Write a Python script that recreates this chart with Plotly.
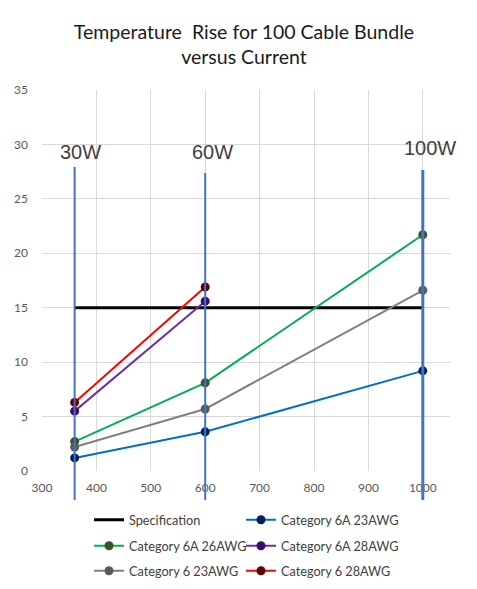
import plotly.graph_objects as go

# ---- data ----
currents = [360, 600, 1000]
watt_labels = ["30W", "60W", "100W"]
spec_x = [360, 1000]
spec_y = [15, 15]

cat6a_23 = [1.2, 3.6, 9.2]
cat6a_26 = [2.7, 8.1, 21.7]
cat6a_28 = [5.5, 15.6]
cat6_23 = [2.2, 5.7, 16.6]
cat6_28 = [6.3, 16.9]

x_ticks = [300, 400, 500, 600, 700, 800, 900, 1000]
y_ticks = [0, 5, 10, 15, 20, 25, 30, 35]

# page body has an 8px margin, so the figure is sized to the visible window
W, H = 461, 573
ML, MR, MT, MB = 34, 19, 82, 110
PW = W - ML - MR

# legend grid: two columns, three rows (pixel positions of each cell)
leg_cols = [81, 233]
leg_rows = [512, 538, 563]

fig = go.Figure()

fig.add_trace(go.Scatter(x=spec_x, y=spec_y, mode="lines", name="Specification",
                         line=dict(color="#000000", width=3), legend="legend"))

series = [
    ("Category 6A 23AWG", currents, cat6a_23, "#0070C0", "#002060"),
    ("Category 6A 26AWG", currents, cat6a_26, "#00B050", "#375623"),
    ("Category 6A 28AWG", currents[:2], cat6a_28, "#7030A0", "#3A0B6B"),
    ("Category 6 23AWG", currents, cat6_23, "#808080", "#595959"),
    ("Category 6 28AWG", currents[:2], cat6_28, "#FF0000", "#600000"),
]
for i, (name, xs, ys, lc, mc) in enumerate(series):
    fig.add_trace(go.Scatter(x=xs, y=ys, mode="lines+markers", name=name,
                             line=dict(color=lc, width=2),
                             marker=dict(color=mc, size=9), legend=f"legend{i + 2}"))

# vertical power-level markers
tops = [0.798, 0.782, 0.79]
widths = [2, 2, 3]
for xv, top, w in zip(currents, tops, widths):
    fig.add_shape(type="line", xref="x", yref="paper", x0=xv, x1=xv, y0=-0.076, y1=top,
                  line=dict(color="#4472C4", width=w), layer="above")

ann_y = [0.837, 0.837, 0.848]
ann_shift = [6, 7, 7]
for xv, lab, yy, sh in zip(currents, watt_labels, ann_y, ann_shift):
    fig.add_annotation(x=xv, y=yy, xref="x", yref="paper", text=lab, showarrow=False,
                       xanchor="center", yanchor="middle", xshift=sh,
                       font=dict(family="Liberation Sans", size=20, color="#404040"))

leg_common = dict(orientation="h", xanchor="left", yref="container", yanchor="middle",
                  itemwidth=30, font=dict(family="Lato", size=12.7, color="#404040"),
                  bgcolor="rgba(0,0,0,0)")
legends = {}
for k in range(6):
    key = "legend" if k == 0 else f"legend{k + 1}"
    cx = leg_cols[k % 2]
    cy = leg_rows[k // 2]
    legends[key] = dict(leg_common, x=(cx - ML) / PW, y=1 - cy / H)

fig.update_layout(
    width=W, height=H,
    margin=dict(l=ML, r=MR, t=MT, b=MB, autoexpand=False),
    paper_bgcolor="white", plot_bgcolor="white",
    title=dict(text="Temperature  Rise for 100 Cable Bundle<br>versus Current",
               x=0.495, xanchor="center", xref="paper", yref="container",
               y=1 - 31 / H, yanchor="middle",
               font=dict(family="Lato", size=19.5, color="#1a1a1a")),
    font=dict(family="Lato", size=12, color="#595959"),
    xaxis=dict(range=[300, 1050], tickvals=x_ticks, showgrid=True, gridcolor="#D9D9D9",
               gridwidth=1, zeroline=False, showline=False, ticks="", automargin=False,
               ticklabelstandoff=8, tickfont=dict(size=12, color="#595959")),
    yaxis=dict(range=[0, 35], tickvals=y_ticks, showgrid=True, gridcolor="#D9D9D9",
               gridwidth=1, zeroline=False, showline=False, ticks="", automargin=False,
               ticklabelstandoff=13, tickfont=dict(size=12, color="#595959")),
    showlegend=True,
    **legends,
)

fig.write_html("out.html")
